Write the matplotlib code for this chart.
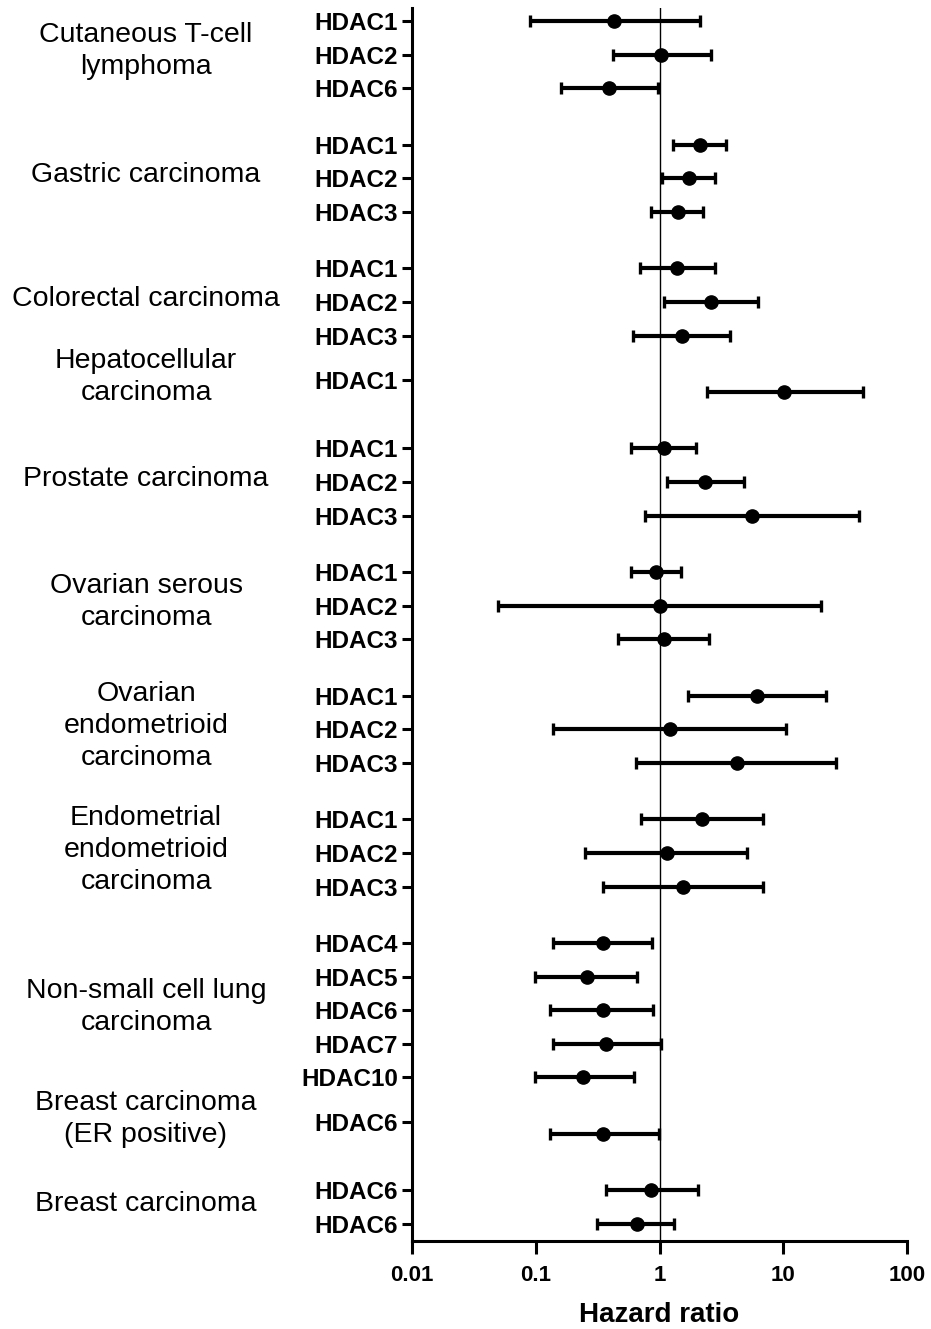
# Forest plot de Hazard ratio por tipo de cáncer e isoforma HDAC
import matplotlib
matplotlib.use("Agg")
import matplotlib.pyplot as plt
import matplotlib.transforms as mtransforms
import numpy as np

plt.rcParams['font.family'] = ['Liberation Sans', 'DejaVu Sans']

# Datos
tipos_cancer = [
    "Cutaneous T-cell\nlymphoma",
    "Gastric carcinoma",
    "Colorectal carcinoma",
    "Hepatocellular\ncarcinoma",
    "Prostate carcinoma",
    "Ovarian serous\ncarcinoma",
    "Ovarian\nendometrioid\ncarcinoma",
    "Endometrial\nendometrioid\ncarcinoma",
    "Non-small cell lung\ncarcinoma",
    "Breast carcinoma\n(ER positive)",
    "Breast carcinoma",
]
filas_por_tipo = [3, 3, 3, 1, 3, 3, 3, 3, 5, 1, 2]

genes = [
    "HDAC1", "HDAC2", "HDAC6",
    "HDAC1", "HDAC2", "HDAC3",
    "HDAC1", "HDAC2", "HDAC3",
    "HDAC1",
    "HDAC1", "HDAC2", "HDAC3",
    "HDAC1", "HDAC2", "HDAC3",
    "HDAC1", "HDAC2", "HDAC3",
    "HDAC1", "HDAC2", "HDAC3",
    "HDAC4", "HDAC5", "HDAC6", "HDAC7", "HDAC10",
    "HDAC6",
    "HDAC6", "HDAC6",
]
hr = [
    0.43, 1.02, 0.39,
    2.11, 1.74, 1.41,
    1.39, 2.6, 1.52,
    10.2,
    1.09, 2.34, 5.6,
    0.93, 1.0, 1.08,
    6.1, 1.21, 4.2,
    2.22, 1.15, 1.54,
    0.35, 0.26, 0.35, 0.37, 0.24,
    0.35,
    0.86, 0.66,
]
ic_inferior = [
    0.090, 0.42, 0.16,
    1.29, 1.05, 0.86,
    0.69, 1.09, 0.61,
    2.4,
    0.59, 1.15, 0.77,
    0.59, 0.050, 0.46,
    1.70, 0.139, 0.65,
    0.71, 0.25, 0.35,
    0.139, 0.098, 0.13, 0.139, 0.098,
    0.13,
    0.37, 0.31,
]
ic_superior = [
    2.14, 2.59, 0.98,
    3.45, 2.79, 2.25,
    2.79, 6.3, 3.72,
    44.0,
    1.98, 4.8, 40.8,
    1.50, 20.1, 2.49,
    22.2, 10.5, 26.9,
    6.9, 5.1, 6.8,
    0.87, 0.66, 0.89, 1.02, 0.62,
    0.985,
    2.03, 1.32,
]

# Posiciones de las filas (un hueco extra entre grupos)
separacion_extra = 0.68
posiciones = []
posiciones_ticks = []
centros_grupo = []
y = 0.0
for n in filas_por_tipo:
    filas = [y + k for k in range(n)]
    posiciones += filas
    if n == 1:
        # en los grupos de una sola fila la etiqueta queda algo más arriba
        posiciones_ticks += [filas[0] - 0.35]
    else:
        posiciones_ticks += filas
    centros_grupo.append(np.mean(posiciones_ticks[-n:]))
    y = filas[-1] + 1 + separacion_extra

hr = np.array(hr)
ic_inferior = np.array(ic_inferior)
ic_superior = np.array(ic_superior)

ancho, alto = 931, 1329
fig = plt.figure(figsize=(ancho / 100, alto / 100), dpi=100)
ax = fig.add_axes([412 / ancho, 1 - 1241 / alto, (907 - 412) / ancho, (1241 - 8) / alto])

ax.axvline(1, color='black', lw=1.0, zorder=1)
ax.errorbar(hr, posiciones, xerr=[hr - ic_inferior, ic_superior - hr],
            fmt='o', color='black', ms=9.5, elinewidth=3.0,
            capsize=4.5, capthick=2.4, zorder=3)

ax.set_xscale('log')
ax.set_xlim(0.01, 100)
ax.set_ylim(36.31, -0.39)

for lado in ['top', 'right']:
    ax.spines[lado].set_visible(False)
for lado in ['left', 'bottom']:
    ax.spines[lado].set_linewidth(2.2)

ax.set_xticks([0.01, 0.1, 1, 10, 100])
ax.set_xticklabels(['0.01', '0.1', '1', '10', '100'], fontweight='bold')
ax.xaxis.set_minor_locator(matplotlib.ticker.NullLocator())
ax.tick_params(axis='x', length=9, width=2.2, labelsize=16, pad=8)

ax.set_yticks(posiciones_ticks)
ax.set_yticklabels(genes, fontweight='bold')
ax.tick_params(axis='y', length=7, width=2.2, labelsize=17.5, pad=3)

ax.set_xlabel("Hazard ratio", fontsize=20, fontweight='bold', labelpad=12)

# Nombres de los tipos de cáncer a la izquierda
trans = mtransforms.blended_transform_factory(fig.transFigure, ax.transData)
for nombre, yc in zip(tipos_cancer, centros_grupo):
    fig.text(146 / ancho, yc - 0.1, nombre, transform=trans, ha='center', va='center',
             fontsize=20.5, linespacing=1.3)

fig.savefig("out.png", dpi=100)
